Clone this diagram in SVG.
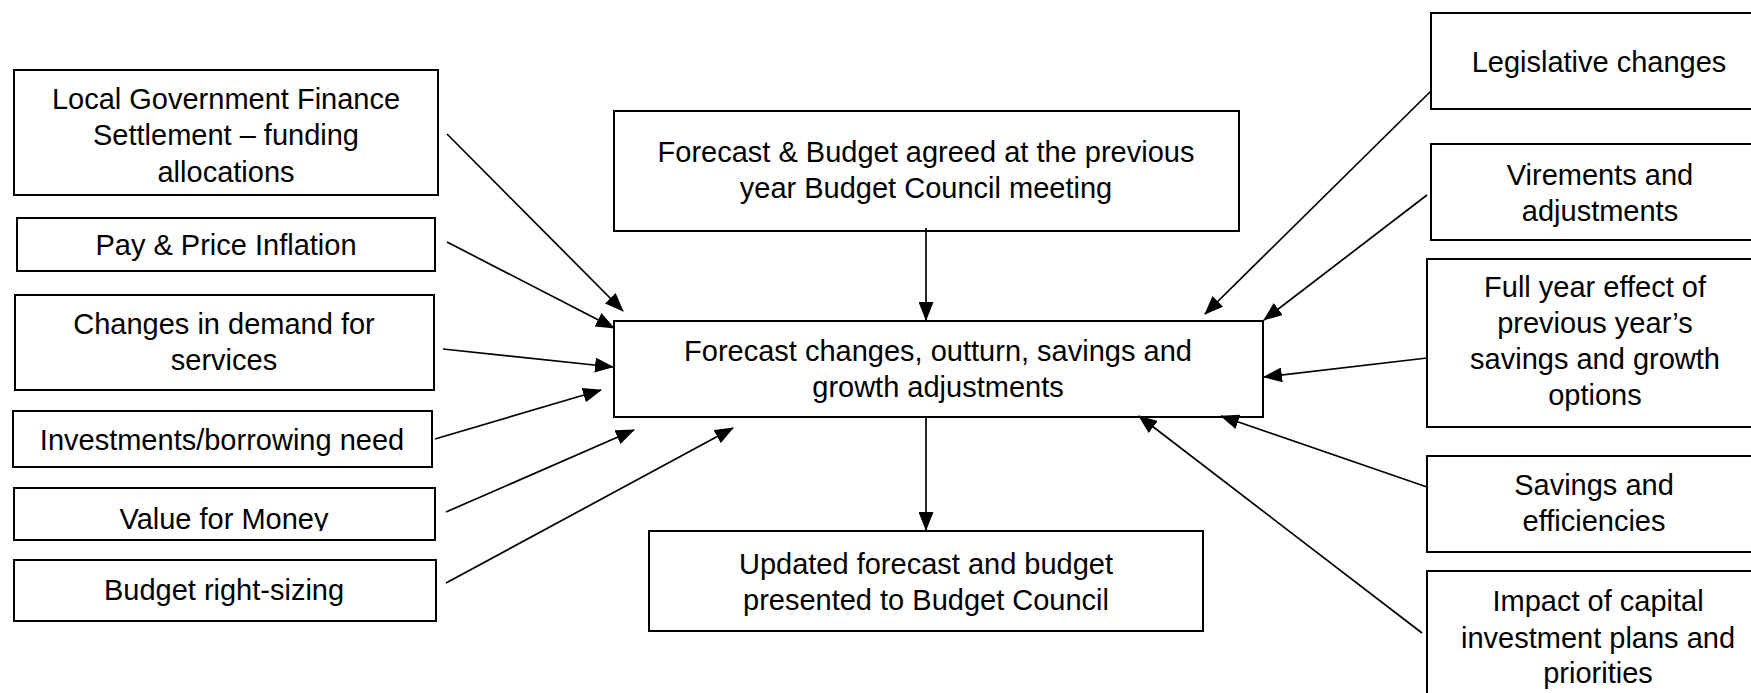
<svg xmlns="http://www.w3.org/2000/svg" width="1751" height="693" viewBox="0 0 1751 693">
<style>
.box{fill:#fff;stroke:#000;stroke-width:2}
.t{font-family:"Liberation Sans",Arial,sans-serif;font-size:29px;fill:#000;text-anchor:middle}
.c{stroke:#000;stroke-width:1.7;fill:none;marker-end:url(#ah)}
</style>
<defs>
<marker id="ah" viewBox="0 0 19 15" refX="18" refY="7.5" markerWidth="19" markerHeight="15" markerUnits="userSpaceOnUse" orient="auto">
<path d="M0,0 L19,7.5 L0,15 z" fill="#000"/>
</marker>
<clipPath id="vfmclip"><rect x="14" y="488" width="421" height="43"/></clipPath>
</defs>
<rect width="1751" height="693" fill="#fff"/>

<g id="lgfs"><rect class="box" x="14" y="70" width="424" height="125"/>
<text class="t" x="226" y="109">Local Government Finance</text>
<text class="t" x="226" y="145">Settlement – funding</text>
<text class="t" x="226" y="182">allocations</text></g>

<g id="pay"><rect class="box" x="17" y="218" width="418" height="53"/>
<text class="t" x="226" y="255">Pay &amp; Price Inflation</text></g>

<g id="demand"><rect class="box" x="15" y="295" width="419" height="95"/>
<text class="t" x="224" y="334">Changes in demand for</text>
<text class="t" x="224" y="370">services</text></g>

<g id="invest"><rect class="box" x="13" y="411" width="419" height="56"/>
<text class="t" x="222" y="450">Investments/borrowing need</text></g>

<g id="vfm"><rect class="box" x="14" y="488" width="421" height="52"/>
<text class="t" x="224" y="529" clip-path="url(#vfmclip)">Value for Money</text></g>

<g id="rightsizing"><rect class="box" x="14" y="560" width="422" height="61"/>
<text class="t" x="224" y="600">Budget right-sizing</text></g>

<g id="prev"><rect class="box" x="614" y="111" width="625" height="120"/>
<text class="t" x="926" y="162">Forecast &amp; Budget agreed at the previous</text>
<text class="t" x="926" y="198">year Budget Council meeting</text></g>

<g id="main"><rect class="box" x="614" y="321" width="649" height="96"/>
<text class="t" x="938" y="361">Forecast changes, outturn, savings and</text>
<text class="t" x="938" y="397">growth adjustments</text></g>

<g id="updated"><rect class="box" x="649" y="531" width="554" height="100"/>
<text class="t" x="926" y="574">Updated forecast and budget</text>
<text class="t" x="926" y="610">presented to Budget Council</text></g>

<g id="legis"><rect class="box" x="1431" y="13" width="340" height="96"/>
<text class="t" x="1599" y="72">Legislative changes</text></g>

<g id="virements"><rect class="box" x="1431" y="144" width="340" height="96"/>
<text class="t" x="1600" y="185">Virements and</text>
<text class="t" x="1600" y="221">adjustments</text></g>

<g id="fullyear"><rect class="box" x="1427" y="259" width="344" height="168"/>
<text class="t" x="1595" y="297">Full year effect of</text>
<text class="t" x="1595" y="333">previous year’s</text>
<text class="t" x="1595" y="369">savings and growth</text>
<text class="t" x="1595" y="405">options</text></g>

<g id="savings"><rect class="box" x="1427" y="456" width="344" height="96"/>
<text class="t" x="1594" y="495">Savings and</text>
<text class="t" x="1594" y="531">efficiencies</text></g>

<g id="impact"><rect class="box" x="1427" y="571" width="344" height="140"/>
<text class="t" x="1598" y="611">Impact of capital</text>
<text class="t" x="1598" y="648">investment plans and</text>
<text class="t" x="1598" y="683">priorities</text></g>

<g id="connectors">
<line class="c" x1="447" y1="134" x2="623" y2="311"/>
<line class="c" x1="447" y1="242" x2="614" y2="328"/>
<line class="c" x1="443" y1="349" x2="613" y2="367"/>
<line class="c" x1="435" y1="439" x2="601" y2="390"/>
<line class="c" x1="446" y1="512" x2="634" y2="430"/>
<line class="c" x1="446" y1="583" x2="733" y2="428"/>
<line class="c" x1="926" y1="228" x2="926" y2="320"/>
<line class="c" x1="926" y1="417" x2="926" y2="530"/>
<line class="c" x1="1431" y1="91" x2="1205" y2="314"/>
<line class="c" x1="1427" y1="195" x2="1264" y2="320"/>
<line class="c" x1="1427" y1="358" x2="1264" y2="377"/>
<line class="c" x1="1427" y1="487" x2="1221" y2="416"/>
<line class="c" x1="1422" y1="633" x2="1139" y2="416"/>
</g>
</svg>
